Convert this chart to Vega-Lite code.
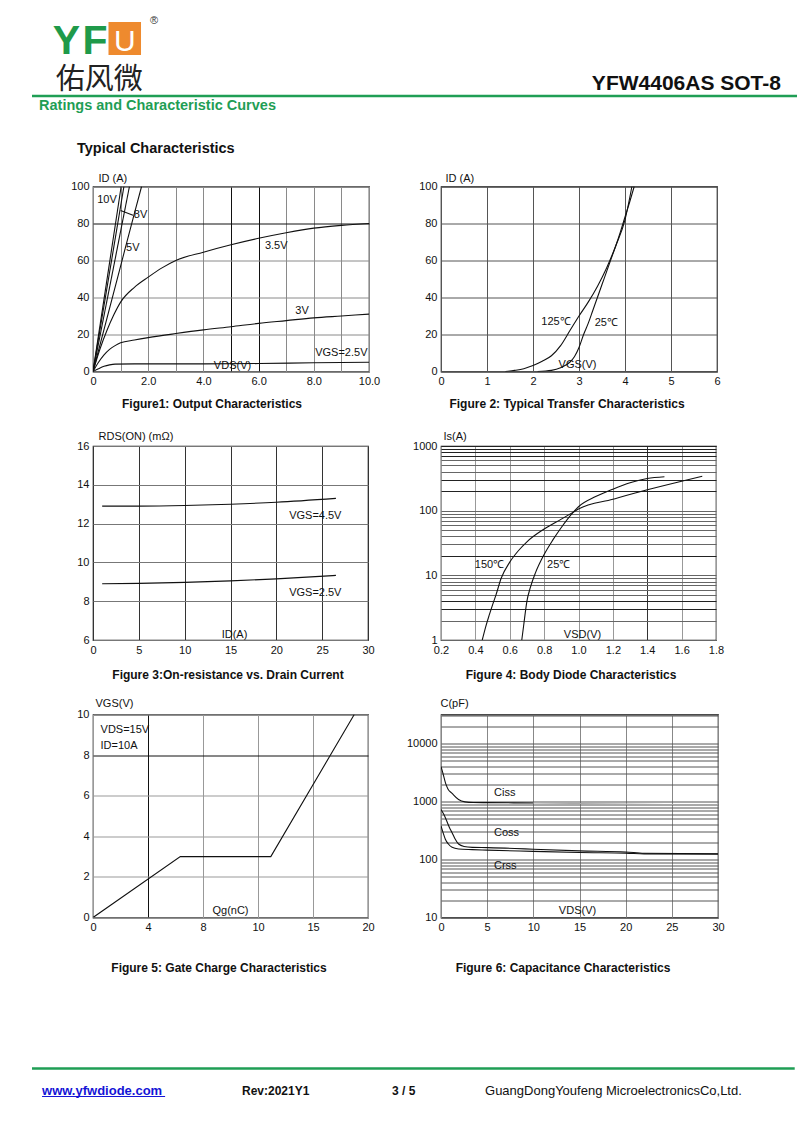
{
  "$schema": "https://vega.github.io/schema/vega-lite/v6.json",
  "background": "white",
  "padding": {"left": 30, "top": 10, "right": 0, "bottom": 5},
  "autosize": {"type": "pad"},
  "columns": 2,
  "bounds": "flush",
  "align": "each",
  "spacing": {"row": 74.5, "column": 72},
  "config": {
    "font": "Liberation Sans",
    "view": {"stroke": "#111", "strokeWidth": 1.2},
    "axis": {"labelFont": "Liberation Sans", "labelFontSize": 11, "labelColor": "#111", "ticks": false, "tickSize": 0, "domain": false, "labelPadding": 4, "gridColor": "#777", "gridWidth": 1, "gridOpacity": 1, "labelFlush": false, "labelOverlap": false, "labelSeparation": 0, "labelBound": false, "titleFont": "Liberation Sans", "titleFontSize": 11, "titleFontWeight": "normal", "titleColor": "#111", "titlePadding": 0},
    "title": {"font": "Liberation Sans", "fontSize": 12, "fontWeight": "bold", "color": "#111"},
    "text": {"font": "Liberation Sans", "fontSize": 11, "color": "#111"},
    "line": {"color": "#111", "strokeWidth": 1.1}
  },
  "datasets": {
    "f1c": [
      {"s":"10V","x":0,"y":0},{"s":"10V","x":1.02,"y":100},
      {"s":"8V","x":0,"y":0},{"s":"8V","x":1.12,"y":100},
      {"s":"6V","x":0,"y":0},{"s":"6V","x":1.32,"y":100},
      {"s":"5V","x":0,"y":0},{"s":"5V","x":0.5,"y":28.5},{"s":"5V","x":1,"y":57},{"s":"5V","x":1.5,"y":85.5},{"s":"5V","x":1.76,"y":100},
      {"s":"3.5V","x":0,"y":0},{"s":"3.5V","x":0.25,"y":12},{"s":"3.5V","x":0.5,"y":22},{"s":"3.5V","x":0.75,"y":30.5},{"s":"3.5V","x":1,"y":37.5},{"s":"3.5V","x":1.5,"y":45.5},{"s":"3.5V","x":2,"y":51},{"s":"3.5V","x":2.5,"y":56},{"s":"3.5V","x":3,"y":60},{"s":"3.5V","x":4,"y":64.5},{"s":"3.5V","x":5,"y":68.5},{"s":"3.5V","x":6,"y":72},{"s":"3.5V","x":7,"y":75},{"s":"3.5V","x":8,"y":77.5},{"s":"3.5V","x":9,"y":79},{"s":"3.5V","x":10,"y":80},
      {"s":"3V","x":0,"y":0},{"s":"3V","x":0.2,"y":5},{"s":"3V","x":0.4,"y":9},{"s":"3V","x":0.6,"y":12},{"s":"3V","x":0.8,"y":14},{"s":"3V","x":1,"y":15.5},{"s":"3V","x":1.5,"y":17},{"s":"3V","x":2,"y":18.3},{"s":"3V","x":3,"y":20.5},{"s":"3V","x":4,"y":22.5},{"s":"3V","x":5,"y":24.2},{"s":"3V","x":6,"y":26},{"s":"3V","x":7,"y":27.5},{"s":"3V","x":8,"y":29},{"s":"3V","x":9,"y":30},{"s":"3V","x":10,"y":31},
      {"s":"2.5V","x":0,"y":0},{"s":"2.5V","x":0.2,"y":1.5},{"s":"2.5V","x":0.4,"y":2.8},{"s":"2.5V","x":0.6,"y":3.6},{"s":"2.5V","x":0.8,"y":4},{"s":"2.5V","x":1.5,"y":4.1},{"s":"2.5V","x":4,"y":4.1},{"s":"2.5V","x":6,"y":4.3},{"s":"2.5V","x":8,"y":4.7},{"s":"2.5V","x":10,"y":5},
      {"s":"lead","x":1.0,"y":87},{"s":"lead","x":1.45,"y":84.5}
    ],
    "f1t": [
      {"x":0.15,"y":92.5,"t":"10V"},{"x":1.48,"y":84.5,"t":"8V"},{"x":1.2,"y":67,"t":"5V"},{"x":6.23,"y":68,"t":"3.5V"},{"x":7.33,"y":32.5,"t":"3V"},{"x":8.05,"y":10,"t":"VGS=2.5V"}
    ],
    "f2c": [
      {"s":"125","x":1.4,"y":0},{"s":"125","x":1.6,"y":0.6},{"s":"125","x":1.8,"y":1.5},{"s":"125","x":2.0,"y":3.2},{"s":"125","x":2.2,"y":5.5},{"s":"125","x":2.4,"y":8.5},{"s":"125","x":2.6,"y":14},{"s":"125","x":2.8,"y":22},{"s":"125","x":3.0,"y":30},{"s":"125","x":3.2,"y":37.5},{"s":"125","x":3.4,"y":46},{"s":"125","x":3.6,"y":56},{"s":"125","x":3.8,"y":68},{"s":"125","x":4.0,"y":82},{"s":"125","x":4.15,"y":100},
      {"s":"25","x":2.1,"y":0},{"s":"25","x":2.4,"y":0.6},{"s":"25","x":2.6,"y":2},{"s":"25","x":2.8,"y":5},{"s":"25","x":2.9,"y":8},{"s":"25","x":3.0,"y":13},{"s":"25","x":3.1,"y":20},{"s":"25","x":3.2,"y":26},{"s":"25","x":3.3,"y":33},{"s":"25","x":3.4,"y":40},{"s":"25","x":3.5,"y":47},{"s":"25","x":3.6,"y":54},{"s":"25","x":3.7,"y":61},{"s":"25","x":3.8,"y":68},{"s":"25","x":3.9,"y":75.5},{"s":"25","x":4.0,"y":83.5},{"s":"25","x":4.1,"y":91.5},{"s":"25","x":4.2,"y":100}
    ],
    "f2t": [
      {"x":2.18,"y":27,"t":"125℃"},{"x":3.34,"y":26,"t":"25℃"}
    ],
    "f3c": [
      {"s":"4.5V","x":1,"y":12.9},{"s":"4.5V","x":5,"y":12.9},{"s":"4.5V","x":10,"y":12.93},{"s":"4.5V","x":15,"y":13.0},{"s":"4.5V","x":20,"y":13.1},{"s":"4.5V","x":26.5,"y":13.3},
      {"s":"2.5V","x":1,"y":8.9},{"s":"2.5V","x":5,"y":8.92},{"s":"2.5V","x":10,"y":8.97},{"s":"2.5V","x":15,"y":9.05},{"s":"2.5V","x":20,"y":9.15},{"s":"2.5V","x":26.5,"y":9.33}
    ],
    "f3t": [
      {"x":21.4,"y":12.4,"t":"VGS=4.5V"},{"x":21.4,"y":8.4,"t":"VGS=2.5V"}
    ],
    "f4c": [
      {"s":"150","x":0.44,"y":1},{"s":"150","x":0.46,"y":1.6},{"s":"150","x":0.48,"y":2.4},{"s":"150","x":0.5,"y":3.5},{"s":"150","x":0.52,"y":5},{"s":"150","x":0.55,"y":9},{"s":"150","x":0.6,"y":16},{"s":"150","x":0.65,"y":24},{"s":"150","x":0.7,"y":33},{"s":"150","x":0.8,"y":52},{"s":"150","x":0.9,"y":74},{"s":"150","x":0.97,"y":95},{"s":"150","x":1.0,"y":106},{"s":"150","x":1.2,"y":150},{"s":"150","x":1.4,"y":210},{"s":"150","x":1.6,"y":285},{"s":"150","x":1.72,"y":340},
      {"s":"25","x":0.67,"y":1},{"s":"25","x":0.68,"y":1.6},{"s":"25","x":0.7,"y":4},{"s":"25","x":0.72,"y":6.5},{"s":"25","x":0.75,"y":11},{"s":"25","x":0.8,"y":21},{"s":"25","x":0.85,"y":35},{"s":"25","x":0.9,"y":55},{"s":"25","x":0.97,"y":95},{"s":"25","x":1.0,"y":115},{"s":"25","x":1.1,"y":165},{"s":"25","x":1.2,"y":215},{"s":"25","x":1.3,"y":270},{"s":"25","x":1.4,"y":315},{"s":"25","x":1.5,"y":335}
    ],
    "f4t": [
      {"x":0.397,"y":14.6,"t":"150℃"},{"x":0.817,"y":14.6,"t":"25℃"}
    ],
    "f5c": [
      {"x":0,"y":0},{"x":6.35,"y":3},{"x":12.93,"y":3},{"x":19.0,"y":10}
    ],
    "f5t": [
      {"x":0.55,"y":9.25,"t":"VDS=15V"},{"x":0.55,"y":8.46,"t":"ID=10A"}
    ],
    "f6c": [
      {"s":"Ciss","x":0,"y":4000},{"s":"Ciss","x":0.25,"y":2900},{"s":"Ciss","x":0.5,"y":2050},{"s":"Ciss","x":0.75,"y":1650},{"s":"Ciss","x":1.2,"y":1380},{"s":"Ciss","x":1.9,"y":1080},{"s":"Ciss","x":2.6,"y":985},{"s":"Ciss","x":3.5,"y":960},{"s":"Ciss","x":5,"y":955},{"s":"Ciss","x":10,"y":945},
      {"s":"Coss","x":0,"y":730},{"s":"Coss","x":0.3,"y":600},{"s":"Coss","x":0.6,"y":470},{"s":"Coss","x":0.9,"y":360},{"s":"Coss","x":1.2,"y":290},{"s":"Coss","x":1.5,"y":230},{"s":"Coss","x":1.9,"y":185},{"s":"Coss","x":2.5,"y":168},{"s":"Coss","x":3.4,"y":162},{"s":"Coss","x":5,"y":160},{"s":"Coss","x":8,"y":155},{"s":"Coss","x":10,"y":150},{"s":"Coss","x":15,"y":141},{"s":"Coss","x":20,"y":135},{"s":"Coss","x":22,"y":128},{"s":"Coss","x":30,"y":126},
      {"s":"Crss","x":0,"y":380},{"s":"Crss","x":0.2,"y":300},{"s":"Crss","x":0.47,"y":224},{"s":"Crss","x":0.8,"y":185},{"s":"Crss","x":1.2,"y":162},{"s":"Crss","x":1.9,"y":152},{"s":"Crss","x":3.4,"y":148},{"s":"Crss","x":5,"y":145},{"s":"Crss","x":10,"y":138},{"s":"Crss","x":15,"y":132},{"s":"Crss","x":20,"y":129},{"s":"Crss","x":22,"y":125},{"s":"Crss","x":30,"y":124}
    ],
    "f6tail": [
      {"x":10,"y":945},{"x":20,"y":900},{"x":30,"y":880}
    ],
    "f6t": [
      {"x":5.74,"y":1400,"t":"Ciss"},{"x":5.74,"y":292,"t":"Coss"},{"x":5.74,"y":77,"t":"Crss"}
    ]
  },
  "concat": [
    {
      "width": 276, "height": 101.5,
      "view": {"stroke": null},
      "data": {"values": [{"page": 3}]},
      "layer": [
        {"mark": {"type": "rule", "color": "#1f9e55", "strokeWidth": 2.5},
         "encoding": {"x": {"datum": 0, "type": "quantitative", "scale": {"domain": [0, 100], "range": [-61, 704]}, "axis": null},
                      "x2": {"datum": 100},
                      "y": {"datum": 0, "type": "quantitative", "scale": {"domain": [0, 100], "range": [86, 0]}, "axis": null}}},
        {"mark": {"type": "rect", "color": "#ee8a2e"},
         "encoding": {"x": {"datum": 10.0, "type": "quantitative", "axis": null}, "x2": {"datum": 14.25},
                      "y": {"datum": 86.0, "type": "quantitative", "axis": null}, "y2": {"datum": 47.7}}},
        {"mark": {"type": "text", "text": "U", "fontSize": 30, "color": "white", "align": "center", "baseline": "alphabetic"},
         "encoding": {"x": {"datum": 12.15, "type": "quantitative", "axis": null}, "y": {"datum": 52.3, "type": "quantitative", "axis": null}}},
        {"mark": {"type": "text", "text": "Y", "fontSize": 41, "fontWeight": "bold", "color": "#1f9a4a", "align": "center", "baseline": "alphabetic"},
         "encoding": {"x": {"datum": 4.51, "type": "quantitative", "axis": null}, "y": {"datum": 49.4, "type": "quantitative", "axis": null}}},
        {"mark": {"type": "text", "text": "F", "fontSize": 41, "fontWeight": "bold", "color": "#1f9a4a", "align": "left", "baseline": "alphabetic"},
         "encoding": {"x": {"datum": 6.6, "type": "quantitative", "axis": null}, "y": {"datum": 49.4, "type": "quantitative", "axis": null}}},
        {"mark": {"type": "text", "text": "®", "fontSize": 11, "color": "#333", "align": "center", "baseline": "alphabetic"},
         "encoding": {"x": {"datum": 15.95, "type": "quantitative", "axis": null}, "y": {"datum": 83.7, "type": "quantitative", "axis": null}}},
        {"mark": {"type": "text", "text": "佑风微", "font": "Noto Sans CJK SC", "fontSize": 29, "color": "#222", "align": "left", "baseline": "alphabetic"},
         "encoding": {"x": {"datum": 3.1, "type": "quantitative", "axis": null}, "y": {"datum": 8.2, "type": "quantitative", "axis": null}}},
        {"mark": {"type": "text", "text": "YFW4406AS SOT-8", "fontSize": 21, "fontWeight": "bold", "color": "#111", "align": "right", "baseline": "alphabetic"},
         "encoding": {"x": {"datum": 97.9, "type": "quantitative", "axis": null}, "y": {"datum": 7.0, "type": "quantitative", "axis": null}}},
        {"mark": {"type": "text", "text": "Ratings and Characteristic Curves", "fontSize": 14.5, "fontWeight": "bold", "color": "#1f9e55", "align": "left", "baseline": "alphabetic"},
         "encoding": {"x": {"datum": 0.92, "type": "quantitative", "axis": null}, "y": {"datum": -16.3, "type": "quantitative", "axis": null}}},
        {"mark": {"type": "text", "text": "Typical Characteristics", "fontSize": 14.5, "fontWeight": "bold", "color": "#111", "align": "left", "baseline": "alphabetic"},
         "encoding": {"x": {"datum": 5.88, "type": "quantitative", "axis": null}, "y": {"datum": -66.3, "type": "quantitative", "axis": null}}}
      ]
    },
    {
      "width": 276, "height": 101.5,
      "view": {"stroke": null},
      "data": {"values": []},
      "mark": "point"
    },
    {
      "width": 276, "height": 185,
      "title": {"text": "Figure1: Output Characteristics", "orient": "bottom", "anchor": "middle", "frame": "group", "dx": -19, "offset": 12, "baseline": "top"},
      "layer": [
        {"data": {"name": "f1c"},
         "mark": {"type": "line", "clip": true, "interpolate": "monotone"},
         "encoding": {
           "x": {"field": "x", "type": "quantitative", "scale": {"domain": [0, 10], "nice": false, "zero": false},
                 "axis": {"title": "VDS(V)", "titleX": 139, "titleY": -3, "titleAlign": "center", "titleBaseline": "alphabetic",
                          "values": [0,1,2,3,4,5,6,7,8,9,10], "tickCount": 100, "labelOverlap": false,
                          "labelExpr": "datum.value % 2 == 0 ? (datum.value == 0 ? '0' : format(datum.value, '.1f')) : ''",
                          "gridColor": {"condition": {"test": "datum.value == 5 || datum.value == 6", "value": "#111"}, "value": "#8a8a8a"}}},
           "y": {"field": "y", "type": "quantitative", "scale": {"domain": [0, 100], "nice": false, "zero": false},
                 "axis": {"title": "ID (A)", "titleAngle": 0, "titleX": 5, "titleY": -5, "titleAlign": "left", "titleBaseline": "alphabetic",
                          "values": [0,20,40,60,80,100], "tickCount": 100, "format": "d", "labelOverlap": false,
                          "gridColor": {"condition": {"test": "datum.value == 80", "value": "#111"}, "value": "#8a8a8a"}}},
           "detail": {"field": "s"}}},
        {"data": {"name": "f1t"},
         "mark": {"type": "text", "align": "left", "baseline": "middle"},
         "encoding": {"x": {"field": "x", "type": "quantitative"}, "y": {"field": "y", "type": "quantitative"}, "text": {"field": "t"}}}
      ]
    },
    {
      "width": 276, "height": 185,
      "title": {"text": "Figure 2: Typical Transfer Characteristics", "orient": "bottom", "anchor": "middle", "frame": "group", "dx": -12, "offset": 12, "baseline": "top"},
      "layer": [
        {"data": {"name": "f2c"},
         "mark": {"type": "line", "clip": true, "interpolate": "monotone"},
         "encoding": {
           "x": {"field": "x", "type": "quantitative", "scale": {"domain": [0, 6], "nice": false, "zero": false},
                 "axis": {"title": "VGS(V)", "titleX": 136, "titleY": -4, "titleAlign": "center", "titleBaseline": "alphabetic",
                          "values": [0,1,2,3,4,5,6], "tickCount": 100, "format": "d", "labelOverlap": false, "gridColor": "#555"}},
           "y": {"field": "y", "type": "quantitative", "scale": {"domain": [0, 100], "nice": false, "zero": false},
                 "axis": {"title": "ID (A)", "titleAngle": 0, "titleX": 4, "titleY": -5, "titleAlign": "left", "titleBaseline": "alphabetic",
                          "values": [0,20,40,60,80,100], "tickCount": 100, "format": "d", "labelOverlap": false, "gridColor": "#555"}},
           "detail": {"field": "s"}}},
        {"data": {"name": "f2t"},
         "mark": {"type": "text", "align": "left", "baseline": "middle"},
         "encoding": {"x": {"field": "x", "type": "quantitative"}, "y": {"field": "y", "type": "quantitative"}, "text": {"field": "t"}}}
      ]
    },
    {
      "width": 275, "height": 194,
      "title": {"text": "Figure 3:On-resistance vs. Drain Current", "orient": "bottom", "anchor": "middle", "frame": "group", "dx": -2.5, "offset": 14.5, "baseline": "top"},
      "layer": [
        {"data": {"name": "f3c"},
         "mark": {"type": "line", "clip": true, "interpolate": "monotone"},
         "encoding": {
           "x": {"field": "x", "type": "quantitative", "scale": {"domain": [0, 30], "nice": false, "zero": false},
                 "axis": {"title": "ID(A)", "titleX": 141, "titleY": -3, "titleAlign": "center", "titleBaseline": "alphabetic",
                          "values": [0,5,10,15,20,25,30], "tickCount": 100, "format": "d", "labelOverlap": false, "gridColor": "#333"}},
           "y": {"field": "y", "type": "quantitative", "scale": {"domain": [6, 16], "nice": false, "zero": false},
                 "axis": {"title": "RDS(ON) (mΩ)", "titleAngle": 0, "titleX": 5, "titleY": -7, "titleAlign": "left", "titleBaseline": "alphabetic",
                          "values": [6,8,10,12,14,16], "tickCount": 100, "format": "d", "labelOverlap": false, "gridColor": "#777"}},
           "detail": {"field": "s"}}},
        {"data": {"name": "f3t"},
         "mark": {"type": "text", "align": "left", "baseline": "middle"},
         "encoding": {"x": {"field": "x", "type": "quantitative"}, "y": {"field": "y", "type": "quantitative"}, "text": {"field": "t"}}}
      ]
    },
    {
      "width": 275, "height": 194,
      "title": {"text": "Figure 4: Body Diode Characteristics", "orient": "bottom", "anchor": "middle", "frame": "group", "dx": -7.5, "offset": 14.5, "baseline": "top"},
      "layer": [
        {"data": {"name": "f4c"},
         "mark": {"type": "line", "clip": true, "interpolate": "monotone"},
         "encoding": {
           "x": {"field": "x", "type": "quantitative", "scale": {"domain": [0.2, 1.8], "nice": false, "zero": false},
                 "axis": {"title": "VSD(V)", "titleX": 141, "titleY": -3, "titleAlign": "center", "titleBaseline": "alphabetic",
                          "values": [0.2,0.4,0.6,0.8,1.0,1.2,1.4,1.6,1.8], "tickCount": 100, "format": ".1f", "labelOverlap": false,
                          "gridColor": {"condition": {"test": "datum.value == 1.4", "value": "#333"}, "value": "#999"}}},
           "y": {"field": "y", "type": "quantitative", "scale": {"type": "log", "domain": [1, 1000], "nice": false},
                 "axis": {"title": "Is(A)", "titleAngle": 0, "titleX": 2, "titleY": -7, "titleAlign": "left", "titleBaseline": "alphabetic",
                          "values": [1,2,3,4,5,6,7,8,9,10,20,30,40,50,60,70,80,90,100,200,300,400,500,600,700,800,900,1000],
                          "tickCount": 100, "format": "d", "labelOverlap": false,
                          "labelExpr": "datum.value == 1 || datum.value == 10 || datum.value == 100 || datum.value == 1000 ? datum.label : ''",
                          "gridWidth": 1.2,
                          "gridColor": {"condition": {"test": "indexof([3,4,20,200,300,700,800,900,1000], datum.value) >= 0", "value": "#222"}, "value": "#666"}}},
           "detail": {"field": "s"}}},
        {"data": {"name": "f4t"},
         "mark": {"type": "text", "align": "left", "baseline": "middle"},
         "encoding": {"x": {"field": "x", "type": "quantitative"}, "y": {"field": "y", "type": "quantitative"}, "text": {"field": "t"}}}
      ]
    },
    {
      "width": 275, "height": 203,
      "title": {"text": "Figure 5: Gate Charge Characteristics", "orient": "bottom", "anchor": "middle", "frame": "group", "dx": -11.5, "offset": 30, "baseline": "top"},
      "layer": [
        {"data": {"name": "f5c"},
         "mark": {"type": "line", "clip": true},
         "encoding": {
           "x": {"field": "x", "type": "quantitative", "scale": {"domain": [0, 20], "nice": false, "zero": false},
                 "axis": {"title": "Qg(nC)", "titleX": 137, "titleY": -4, "titleAlign": "center", "titleBaseline": "alphabetic",
                          "values": [0,4,8,12,16,20], "tickCount": 100, "format": "d", "labelOverlap": false,
                          "labelExpr": "datum.value == 12 ? '10' : datum.value == 16 ? '15' : datum.label",
                          "gridColor": {"condition": {"test": "datum.value == 4", "value": "#111"}, "value": "#999"}}},
           "y": {"field": "y", "type": "quantitative", "scale": {"domain": [0, 10], "nice": false, "zero": false},
                 "axis": {"title": "VGS(V)", "titleAngle": 0, "titleX": 2, "titleY": -8, "titleAlign": "left", "titleBaseline": "alphabetic",
                          "values": [0,2,4,6,8,10], "tickCount": 100, "format": "d", "labelOverlap": false,
                          "gridColor": {"condition": {"test": "datum.value == 8", "value": "#111"}, "value": "#999"}}}}},
        {"data": {"name": "f5t"},
         "mark": {"type": "text", "align": "left", "baseline": "middle"},
         "encoding": {"x": {"field": "x", "type": "quantitative"}, "y": {"field": "y", "type": "quantitative"}, "text": {"field": "t"}}}
      ]
    },
    {
      "width": 277, "height": 203,
      "title": {"text": "Figure 6: Capacitance Characteristics", "orient": "bottom", "anchor": "middle", "frame": "group", "dx": -16.5, "offset": 30, "baseline": "top"},
      "layer": [
        {"data": {"name": "f6c"},
         "mark": {"type": "line", "clip": true, "interpolate": "monotone"},
         "encoding": {
           "x": {"field": "x", "type": "quantitative", "scale": {"domain": [0, 30], "nice": false, "zero": false},
                 "axis": {"title": "VDS(V)", "titleX": 136, "titleY": -4, "titleAlign": "center", "titleBaseline": "alphabetic",
                          "values": [0,5,10,15,20,25,30], "tickCount": 100, "format": "d", "labelOverlap": false, "gridColor": "#888"}},
           "y": {"field": "y", "type": "quantitative", "scale": {"type": "log", "domain": [10, 31623], "nice": false},
                 "axis": {"title": "C(pF)", "titleAngle": 0, "titleX": -1, "titleY": -8, "titleAlign": "left", "titleBaseline": "alphabetic",
                          "values": [10,20,30,40,50,60,70,80,90,100,200,300,400,500,600,700,800,900,1000,2000,3000,4000,5000,6000,7000,8000,9000,10000,20000,30000],
                          "tickCount": 100, "format": "d", "labelOverlap": false,
                          "labelExpr": "datum.value == 10 || datum.value == 100 || datum.value == 1000 || datum.value == 10000 ? datum.label : ''",
                          "gridColor": "#555"}},
           "detail": {"field": "s"}}},
        {"data": {"name": "f6tail"},
         "mark": {"type": "line", "clip": true, "interpolate": "monotone", "color": "#aaa"},
         "encoding": {"x": {"field": "x", "type": "quantitative"}, "y": {"field": "y", "type": "quantitative"}}},
        {"data": {"name": "f6t"},
         "mark": {"type": "text", "align": "left", "baseline": "middle"},
         "encoding": {"x": {"field": "x", "type": "quantitative"}, "y": {"field": "y", "type": "quantitative"}, "text": {"field": "t"}}}
      ]
    },
    {
      "width": 276, "height": 110,
      "view": {"stroke": null},
      "data": {"values": [{"page": 3}]},
      "layer": [
        {"mark": {"type": "rule", "color": "#1f9e55", "strokeWidth": 2.5},
         "encoding": {"x": {"datum": 0, "type": "quantitative", "scale": {"domain": [0, 100], "range": [-61, 704]}, "axis": null},
                      "x2": {"datum": 99.7},
                      "y": {"datum": 100, "type": "quantitative", "scale": {"domain": [0, 100], "range": [106.5, 76.5]}, "axis": null}}},
        {"mark": {"type": "rule", "color": "#1414d6", "strokeWidth": 1},
         "encoding": {"x": {"datum": 1.31, "type": "quantitative", "axis": null}, "x2": {"datum": 17.4},
                      "y": {"datum": 6.7, "type": "quantitative", "axis": null}}},
        {"mark": {"type": "text", "text": "www.yfwdiode.com", "fontSize": 13, "fontWeight": "bold", "color": "#1414d6", "align": "left", "baseline": "alphabetic"},
         "encoding": {"x": {"datum": 1.31, "type": "quantitative", "axis": null}, "y": {"datum": 13.3, "type": "quantitative", "axis": null}}},
        {"mark": {"type": "text", "text": "Rev:2021Y1", "fontSize": 12, "fontWeight": "bold", "color": "#111", "align": "left", "baseline": "alphabetic"},
         "encoding": {"x": {"datum": 27.45, "type": "quantitative", "axis": null}, "y": {"datum": 13.3, "type": "quantitative", "axis": null}}},
        {"mark": {"type": "text", "text": "3 / 5", "fontSize": 12, "fontWeight": "bold", "color": "#111", "align": "left", "baseline": "alphabetic"},
         "encoding": {"x": {"datum": 47.06, "type": "quantitative", "axis": null}, "y": {"datum": 13.3, "type": "quantitative", "axis": null}}},
        {"mark": {"type": "text", "text": "GuangDongYoufeng MicroelectronicsCo,Ltd.", "fontSize": 13, "color": "#111", "align": "left", "baseline": "alphabetic"},
         "encoding": {"x": {"datum": 59.22, "type": "quantitative", "axis": null}, "y": {"datum": 13.3, "type": "quantitative", "axis": null}}}
      ]
    }
  ]
}
